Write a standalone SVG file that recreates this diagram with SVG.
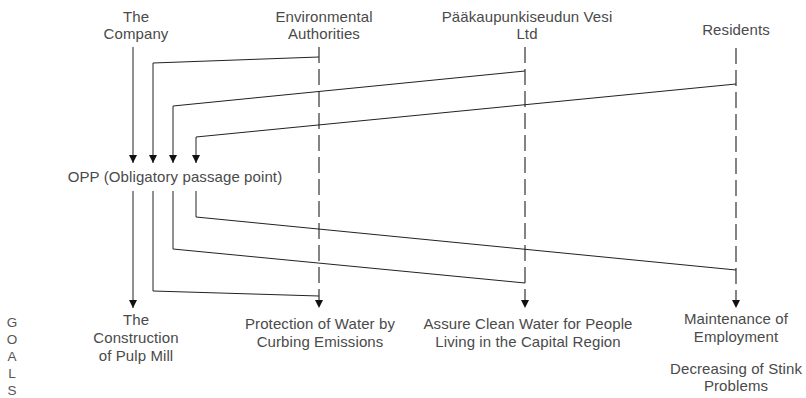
<svg xmlns="http://www.w3.org/2000/svg" width="806" height="398" viewBox="0 0 806 398">
  <style>
    text { font-family: "Liberation Sans", Arial, sans-serif; font-size: 15px; letter-spacing: 0.1px; fill: #4a4a4a; text-anchor: middle; }
    .goals text { font-size: 13.5px; letter-spacing: 0; fill: #555; }
    .link { fill: none; stroke: #222; stroke-width: 1; }
    .trace { fill: none; stroke: #333; stroke-width: 1.2; stroke-dasharray: 16 6; }
  </style>
  <defs>
    <marker id="arrow" markerUnits="userSpaceOnUse" markerWidth="8" markerHeight="8" refX="8" refY="4" orient="auto" viewBox="0 0 8 8">
      <path d="M0,0 L8,4 L0,8 z" fill="#111"/>
    </marker>
  </defs>
  <rect width="806" height="398" fill="#fff"/>

  <!-- actors -->
  <g id="company">
    <text x="136" y="22">The</text>
    <text x="136" y="39">Company</text>
  </g>
  <g id="environmental-authorities">
    <text x="324" y="22">Environmental</text>
    <text x="324" y="39">Authorities</text>
  </g>
  <g id="vesi">
    <text x="527" y="22">Pääkaupunkiseudun Vesi</text>
    <text x="527" y="39">Ltd</text>
  </g>
  <g id="residents">
    <text x="736" y="35">Residents</text>
  </g>

  <!-- obligatory passage point -->
  <g id="opp">
    <text x="175" y="182">OPP (Obligatory passage point)</text>
  </g>

  <!-- goals -->
  <g id="goal-construction">
    <text x="136" y="325">The</text>
    <text x="136" y="343">Construction</text>
    <text x="136" y="361">of Pulp Mill</text>
  </g>
  <g id="goal-protection">
    <text x="320" y="329">Protection of Water by</text>
    <text x="320" y="347">Curbing Emissions</text>
  </g>
  <g id="goal-clean-water">
    <text x="528" y="329">Assure Clean Water for People</text>
    <text x="528" y="347">Living in the Capital Region</text>
  </g>
  <g id="goal-employment">
    <text x="736" y="324">Maintenance of</text>
    <text x="736" y="342">Employment</text>
  </g>
  <g id="goal-stink">
    <text x="736" y="374">Decreasing of Stink</text>
    <text x="736" y="391">Problems</text>
  </g>
  <g id="goals-label" class="goals">
    <text x="12" y="327">G</text>
    <text x="12" y="344">O</text>
    <text x="12" y="361">A</text>
    <text x="12" y="378">L</text>
    <text x="12" y="395">S</text>
  </g>

  <!-- connectors -->
  <g id="connectors">
    <!-- actor traces running down to their goals -->
    <line class="trace" x1="319" y1="47" x2="319" y2="308" marker-end="url(#arrow)"/>
    <line class="trace" x1="525" y1="47" x2="525" y2="308" marker-end="url(#arrow)"/>
    <line class="trace" x1="736" y1="48" x2="736" y2="308" marker-end="url(#arrow)"/>

    <!-- into the OPP -->
    <polyline class="link" points="133,47 133,163" marker-end="url(#arrow)"/>
    <polyline class="link" points="319,57 153,63 153,163" marker-end="url(#arrow)"/>
    <polyline class="link" points="525,71 173,106 173,163" marker-end="url(#arrow)"/>
    <polyline class="link" points="736,84 196,137 196,163" marker-end="url(#arrow)"/>

    <!-- out of the OPP -->
    <polyline class="link" points="133,191 133,308" marker-end="url(#arrow)"/>
    <polyline class="link" points="153,191 153,291 319,296"/>
    <polyline class="link" points="173,191 173,249 525,283"/>
    <polyline class="link" points="196,191 196,217 736,270"/>
  </g>
</svg>
